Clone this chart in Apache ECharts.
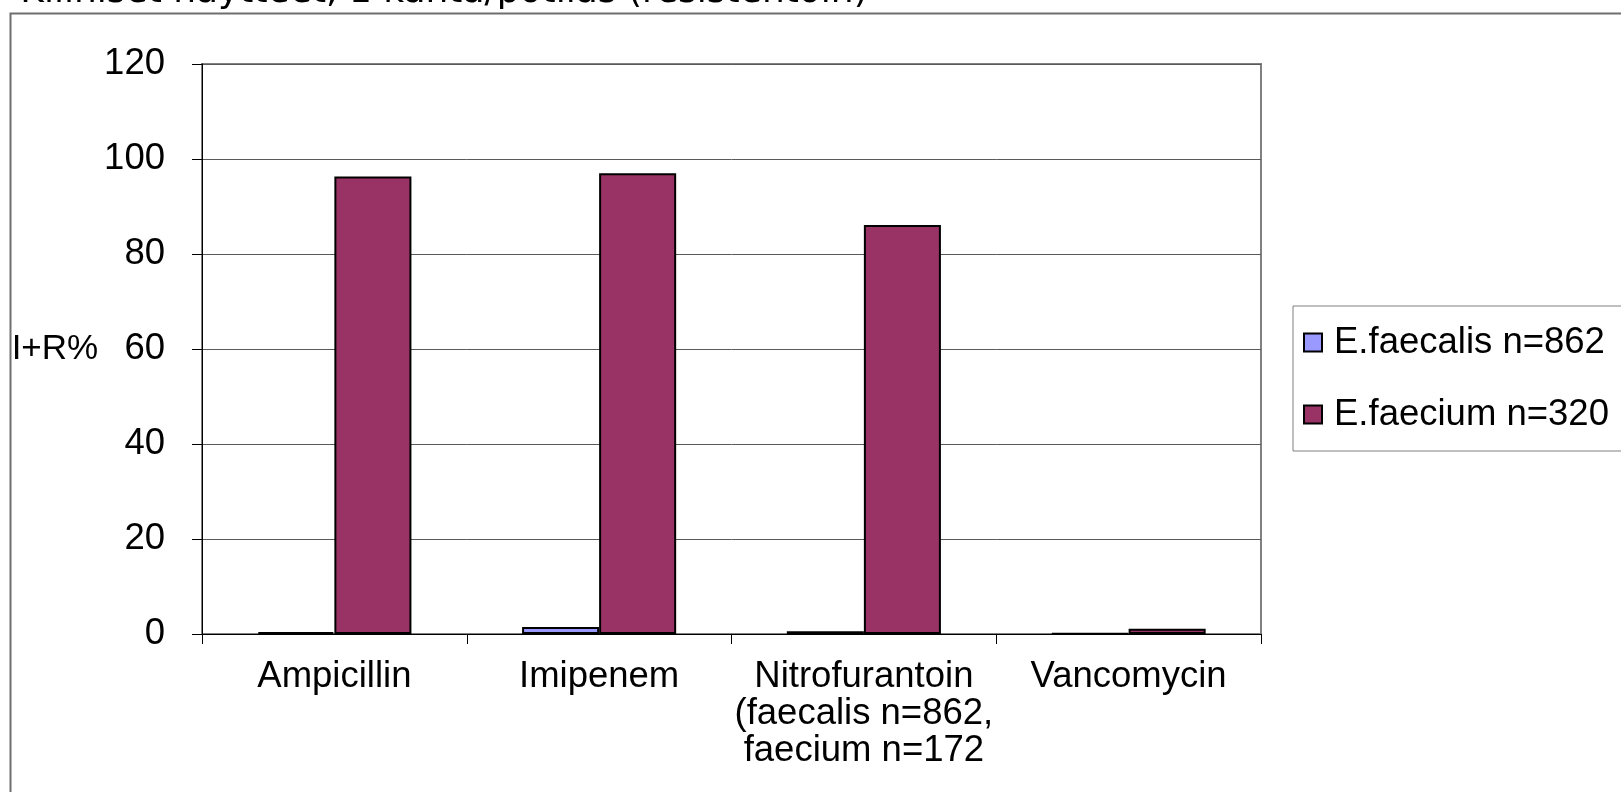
<!doctype html>
<html>
<head>
<meta charset="utf-8">
<title>Kliiniset näytteet</title>
<script src="https://cdn.jsdelivr.net/npm/echarts@6/dist/echarts.min.js"></script>
<style>
html, body { margin: 0; padding: 0; background: #fff; }
#main { width: 1621px; height: 792px; }
</style>
</head>
<body>
<div id="main"></div>
<script>
// data
var categories = ['Ampicillin', 'Imipenem', 'Nitrofurantoin\n(faecalis n=862,\nfaecium n=172', 'Vancomycin'];
var seriesNames = ['E.faecalis n=862', 'E.faecium n=320'];
var faecalis = [0.4, 1.5, 0.6, 0.1];
var faecium = [96.3, 97.0, 86.1, 1.1];
var yTicks = [0, 20, 40, 60, 80, 100, 120];

var font = 'Liberation Sans, Arial, sans-serif';
var fs = 36.5;
var myChart = echarts.init(document.getElementById('main'));

var option = {
  animation: false,
  backgroundColor: '#fff',
  graphic: [
    // outer chart border, runs off the right and bottom edges
    { type: 'rect', left: 8, top: 11, shape: { width: 1700, height: 900 },
      style: { fill: 'none', stroke: '#6e6e6e', lineWidth: 2 }, z: -1 },
    { type: 'text', x: 444, y: -7,
      style: { text: 'Kliiniset näytteet, 1 kanta/potilas (resistentoin)', fill: '#000',
        font: '36px DejaVu Sans', textAlign: 'center', textVerticalAlign: 'middle' } }
  ],
  grid: {
    left: 202, right: 1621 - 1261, top: 64, bottom: 792 - 634,
    show: true, borderColor: '#808080', borderWidth: 2, backgroundColor: '#fff'
  },
  legend: {
    orient: 'vertical',
    left: 1293, top: 306,
    padding: [18, 14, 18, 10],
    itemGap: 35,
    itemWidth: 18, itemHeight: 18,
    borderColor: '#808080', borderWidth: 1,
    icon: 'rect',
    data: seriesNames,
    textStyle: { fontFamily: font, fontSize: fs, color: '#000', padding: [0, 0, 0, 7] }
  },
  xAxis: {
    type: 'category',
    data: categories,
    axisLine: { lineStyle: { color: '#000', width: 1 } },
    axisTick: { show: true, length: 10, lineStyle: { color: '#000' } },
    axisLabel: { fontFamily: font, fontSize: fs, color: '#000', margin: 24, lineHeight: 37, interval: 0 }
  },
  yAxis: {
    type: 'value',
    min: 0, max: 120, interval: 20,
    name: 'I+R%',
    nameLocation: 'middle',
    nameRotate: 0,
    nameGap: 98,
    nameTextStyle: { fontFamily: font, fontSize: 35, color: '#000' },
    axisLine: { show: true, lineStyle: { color: '#000', width: 1 } },
    axisTick: { show: true, length: 10, lineStyle: { color: '#000' } },
    axisLabel: {
      fontFamily: font, fontSize: fs, color: '#000', margin: 37,
      formatter: function (v) { return yTicks.indexOf(v) >= 0 ? String(v) : ''; }
    },
    splitLine: { lineStyle: { color: '#5a5a5a', width: 1 } }
  },
  series: [
    {
      name: seriesNames[0], type: 'bar', data: faecalis,
      barGap: '0%', barCategoryGap: '41.8%',
      itemStyle: { color: '#9999FF', borderColor: '#000', borderWidth: 2 }
    },
    {
      name: seriesNames[1], type: 'bar', data: faecium,
      barGap: '0%', barCategoryGap: '41.8%',
      itemStyle: { color: '#993366', borderColor: '#000', borderWidth: 2 }
    }
  ]
};

myChart.setOption(option);
</script>
</body>
</html>
